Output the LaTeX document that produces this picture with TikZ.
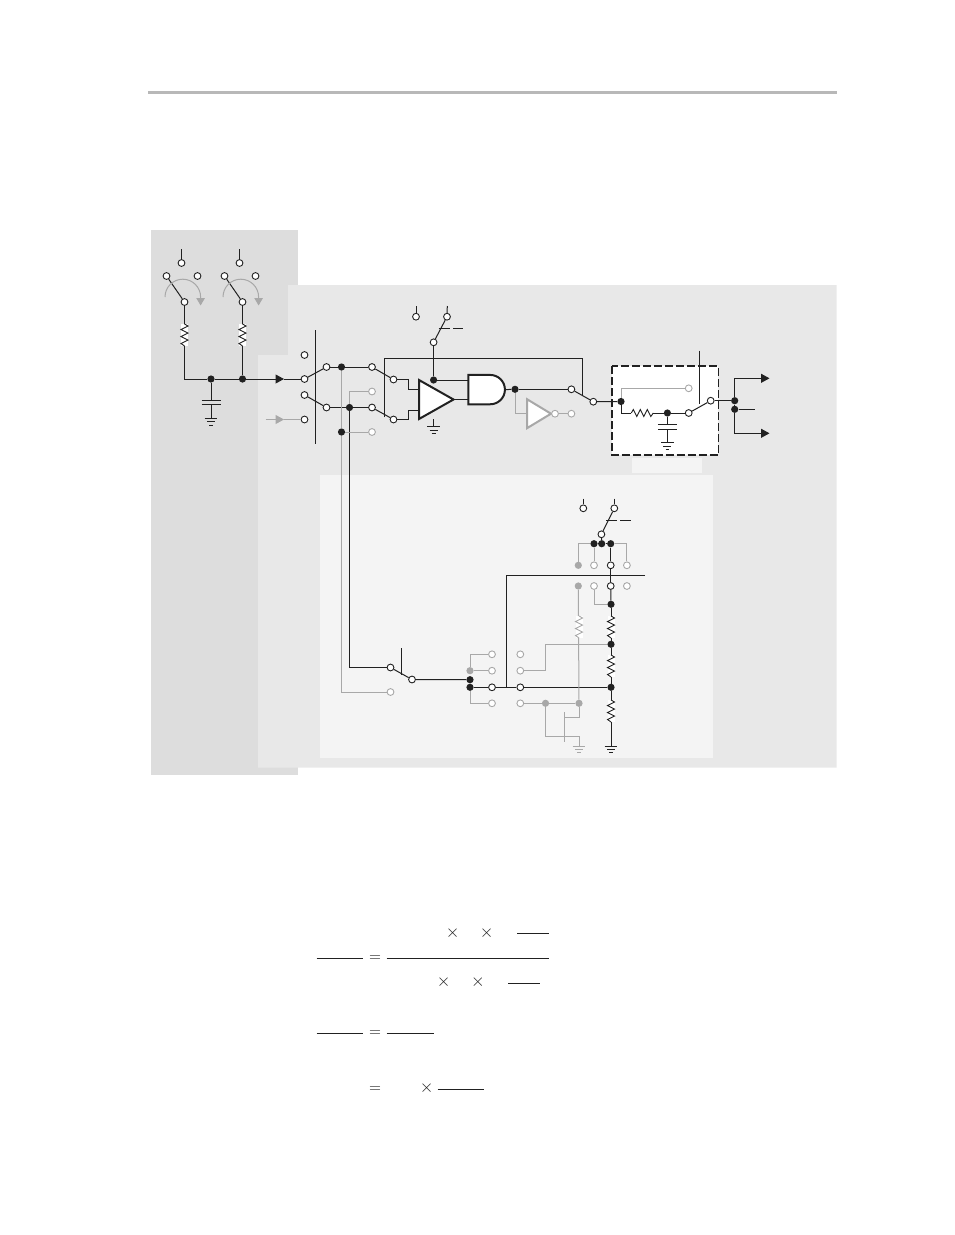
\documentclass[tikz,border=0pt]{standalone}
\usepackage{amsmath}
\usetikzlibrary{arrows.meta,calc,shapes.geometric,shapes.gates.logic.US}
\definecolor{wirec}{gray}{0.13}
\definecolor{greyc}{gray}{0.66}
\definecolor{panela}{gray}{0.865}
\definecolor{panelb}{gray}{0.91}
\definecolor{panelc}{gray}{0.955}
\tikzset{
  term/.style={circle,draw=wirec,fill=white,line width=0.9pt,inner sep=0pt,minimum size=6.8pt},
  gterm/.style={term,draw=greyc},
  jdot/.style={circle,fill=wirec,inner sep=0pt,minimum size=7.2pt},
  gdot/.style={jdot,fill=greyc},
  wire/.style={draw=wirec,line width=1pt},
  gwire/.style={draw=greyc,line width=1pt},
  ampl/.style={isosceles triangle,isosceles triangle stretches,draw=wirec,fill=white,line width=2pt,inner sep=0pt,outer sep=0pt,anchor=lower side},
  sym/.style={scale=1.75,text=wirec,inner sep=0pt},
  head/.style={-{Triangle[length=8.5pt,width=9pt]}},
  pics/res/.style={code={
    \fill[white] (-3.5,-11) rectangle (3.5,11);
    \draw[line width=0.9pt] (0,-11) -- (3.5,-9) -- (-3.5,-5.5) -- (3.5,-2) -- (-3.5,1.5) -- (3.5,5) -- (-3.5,8.5) -- (0,11);
  }},
  pics/gnd/.style={code={
    \coordinate (-top) at (0,0);
    \draw[line width=1pt] (-6.3,0) -- (6.3,0) (-4,3.4) -- (4,3.4) (-1.9,6.8) -- (1.9,6.8);
  }},
  pics/capa/.style={code={
    \coordinate (-top) at (0,-2.4);
    \coordinate (-bot) at (0,2.4);
    \draw[line width=1pt] (-9.5,-2.4) -- (9.5,-2.4) (-9.5,2.4) -- (9.5,2.4);
  }}
}
\begin{document}
\begin{tikzpicture}[x=1pt,y=-1pt]
  \useasboundingbox (0,0) rectangle (954,1235);

  \draw[line width=2.6pt,black!28] (148,92.5) -- (837,92.5);

  \fill[panela] (151,230) rectangle (298,775);
  \fill[panelb] (288,285) -- (836.5,285) -- (836.5,767.5) -- (258,767.5) -- (258,355) -- (288,355) -- cycle;
  \fill[panelc] (320,475) rectangle (713,757.5);
  \fill[panelc] (632,458) rectangle (702,473);
  \draw[wirec,fill=white,line width=1.6pt,dash pattern=on 8pt off 3pt] (611.7,366) rectangle (718.3,455);

  % switches on the left
  \node[term] (sa) at (181.5,263) {};
  \node[term] (sb) at (166.5,276) {};
  \node[term] (sc) at (197.5,276) {};
  \node[term] (sd) at (184.5,302) {};
  \node[term] (ta) at (239.5,263) {};
  \node[term] (tb) at (224.5,276) {};
  \node[term] (tc) at (255.5,276) {};
  \node[term] (td) at (242.5,302) {};
  \node[jdot] (ja) at (211,379) {};
  \node[jdot] (jb) at (242.5,379) {};
  \coordinate (cora) at (184.5,379);
  \coordinate (leada) at (181.5,249);
  \coordinate (leadb) at (239.5,249);
  \coordinate (heada) at (284,379);
  \coordinate (headb) at (284,419.5);
  \coordinate (startb) at (265.5,419.5);

  % input selector
  \node[term] (ia) at (304.5,355) {};
  \node[term] (ib) at (304.5,379) {};
  \node[term] (ic) at (304.5,395) {};
  \node[term] (id) at (304.5,419.5) {};
  \node[term] (ie) at (326.5,367) {};
  \node[term] (if) at (326.5,407.5) {};
  \node[jdot] (jc) at (341.5,367) {};
  \node[jdot] (jd) at (349.5,407.5) {};
  \node[jdot] (je) at (341.5,432) {};
  \node[term] (oa) at (372,367) {};
  \node[gterm] (ob) at (372,391.5) {};
  \node[term] (oc) at (372,407.5) {};
  \node[gterm] (od) at (372,432) {};
  \node[term] (pa) at (393.5,379.5) {};
  \node[term] (pb) at (393.5,419.5) {};
  \coordinate (bara) at (315.5,330);
  \coordinate (barb) at (315.5,444);
  \coordinate (loopa) at (384.5,358);
  \coordinate (loopb) at (384.5,417);
  \coordinate (loopc) at (582.7,358);
  \coordinate (loopd) at (582.7,394.5);

  % comparator, gate, inverter
  \node[ampl,minimum width=39pt,minimum height=34.5pt] (cmp) at (419,399.5) {};
  \node[and gate US,logic gate inputs=nn,draw=wirec,fill=white,line width=2pt,anchor=west,outer sep=0pt,minimum width=35.5pt,minimum height=29.3pt] (gate) at (468.3,389.6) {};
  \node[ampl,draw=greyc,minimum width=29pt,minimum height=24pt] (inv) at (527,413.7) {};
  \node[gterm] (bub) at (555,413.7) {};
  \node[gterm] (ue) at (571.4,413.7) {};
  \node[jdot] (jf) at (433.6,380) {};
  \node[jdot] (jg) at (515,389.3) {};
  \node[term] (ua) at (571.4,389.3) {};
  \node[term] (ub) at (593.3,401.7) {};
  \node[term] (va) at (416,316.7) {};
  \node[term] (vb) at (447,316.7) {};
  \node[term] (vc) at (433.6,342.3) {};
  \coordinate (vleada) at (416,306);
  \coordinate (vleadb) at (447.3,306);
  \coordinate (arma) at (438.5,328.3);
  \coordinate (armb) at (450,328.3);
  \coordinate (armc) at (453,328.3);
  \coordinate (armd) at (463.3,328.3);
  \coordinate (ga) at (433.6,426.7);
  \coordinate (cmpb) at (433.6,419);

  % filter in the dashed box
  \node[jdot] (jh) at (621,401.5) {};
  \node[jdot] (ji) at (667.4,413) {};
  \node[gterm] (wa) at (688.7,388.3) {};
  \node[term] (wb) at (688.7,413) {};
  \node[term] (wc) at (710.7,400.7) {};
  \node[jdot] (jj) at (734.7,400.7) {};
  \node[jdot] (jk) at (734.7,409.3) {};
  \coordinate (barc) at (699.4,350.7);
  \coordinate (bard) at (699.4,403.5);
  \coordinate (reso) at (642.3,413);
  \coordinate (oute) at (755,409.3);
  \coordinate (outa) at (769.5,378.3);
  \coordinate (outb) at (769.5,433.3);
  \coordinate (gb) at (667.4,442.7);

  % lower block
  \node[term] (xa) at (583.3,508.3) {};
  \node[term] (xb) at (614.3,508.3) {};
  \node[term] (xc) at (601.4,534.3) {};
  \node[jdot] (ka) at (594,543.7) {};
  \node[jdot] (kb) at (601.7,543.7) {};
  \node[jdot] (kc) at (610.7,543.7) {};
  \node[gdot] (ya) at (578.3,565.3) {};
  \node[gterm] (yb) at (594,565.3) {};
  \node[term] (yc) at (610.7,565.3) {};
  \node[gterm] (yd) at (626.9,565.3) {};
  \node[gdot] (za) at (578.3,586) {};
  \node[gterm] (zb) at (594,586) {};
  \node[term] (zc) at (610.7,586) {};
  \node[gterm] (zd) at (626.9,586) {};
  \node[jdot] (kd) at (611,604.3) {};
  \node[jdot] (ke) at (611,644.3) {};
  \node[jdot] (kf) at (611,687.3) {};
  \node[gdot] (kg) at (579,703.3) {};
  \node[gdot] (kh) at (545.5,703.3) {};
  \node[gdot] (ma) at (470,670.7) {};
  \node[jdot] (mb) at (470,679.7) {};
  \node[jdot] (mc) at (470,687.3) {};
  \node[gterm] (na) at (492,654.3) {};
  \node[gterm] (nb) at (492,670.7) {};
  \node[term] (nc) at (492,687.3) {};
  \node[gterm] (nd) at (492,703.3) {};
  \node[gterm] (ra) at (520.3,654.3) {};
  \node[gterm] (rb) at (520.3,670.7) {};
  \node[term] (rc) at (520.3,687.3) {};
  \node[gterm] (rd) at (520.3,703.3) {};
  \node[term] (qa) at (390.5,667.5) {};
  \node[gterm] (qb) at (390.5,692) {};
  \node[term] (qc) at (412,679.5) {};
  \coordinate (xleada) at (583.3,498.5);
  \coordinate (xleadb) at (614.3,498.5);
  \coordinate (xarma) at (606,520);
  \coordinate (xarmb) at (616.7,520);
  \coordinate (xarmc) at (620,520);
  \coordinate (xarmd) at (630.7,520);
  \coordinate (busa) at (506,575.3);
  \coordinate (busb) at (645,575.3);
  \coordinate (busc) at (506,687.3);
  \coordinate (bare) at (401.3,648.3);
  \coordinate (barf) at (401.3,675);
  \coordinate (gc) at (611,746);
  \coordinate (gd) at (579,746);
  \coordinate (gatea) at (564.3,712);
  \coordinate (gateb) at (564.3,741.7);
  \coordinate (gatec) at (564.3,717.3);
  \coordinate (gated) at (579,717.3);
  \coordinate (gatee) at (545.5,736.3);
  \coordinate (gatef) at (579,736.3);
  \coordinate (bendb) at (545.7,644.3);

  % black wires
  \draw[wire] (leada) -- (sa);
  \draw[wire] (leadb) -- (ta);
  \draw[wire] (sb) -- (sd);
  \draw[wire] (tb) -- (td);
  \draw[wire] (sd) -- (cora) -- (ja);
  \draw[wire] (td) -- (jb);
  \draw[wire] (ja) -- (jb);
  \draw[wire,head] (jb) -- (heada);
  \draw[wire] (heada) -- (ib);
  \draw[wire] (ib) -- (ie);
  \draw[wire] (ic) -- (if);
  \draw[wire] (bara) -- (barb);
  \draw[wire] (ie) -- (jc);
  \draw[wire] (jc) -- (oa);
  \draw[wire] (if) -- (jd);
  \draw[wire] (jd) -- (oc);
  \draw[wire] (oa) -- (pa);
  \draw[wire] (oc) -- (pb);
  \draw[wire] (loopb) -- (loopa) -- (loopc) -- (loopd);
  \draw[wire] (pa) -- ++(14.5,0) |- ($(cmp.lower side)+(0,-10)$);
  \draw[wire] (pb) -- ++(14.5,0) |- ($(cmp.lower side)+(0,10.5)$);
  \draw[wire] (jf) -- (vc);
  \draw[wire] (vc) -- (vb);
  \draw[wire] (vleada) -- (va);
  \draw[wire] (vleadb) -- (vb);
  \draw[wire] (arma) -- (armb);
  \draw[wire] (armc) -- (armd);
  \draw[wire] (jf) -- (jf -| gate.west);
  \draw[wire] (cmp.apex) -- (cmp.apex -| gate.west);
  \draw[wire] (gate.east) -- (jg);
  \draw[wire] (jg) -- (ua);
  \draw[wire] (ua) -- (ub);
  \draw[wire] (ub) -- (jh);
  \draw[wire] (jh) |- (reso);
  \draw[wire] (reso) -- (ji);
  \draw[wire] (ji) -- (wb);
  \draw[wire] (wb) -- (wc);
  \draw[wire] (barc) -- (bard);
  \draw[wire] (wc) -- (jj);
  \draw[wire] (jj) -- (jk);
  \draw[wire,head] (jj) |- (outa);
  \draw[wire,head] (jk) |- (outb);
  \draw[wire] (jk) -- (oute);
  \draw[wire] (jd) |- (qa);
  \draw[wire] (qa) -- (qc);
  \draw[wire] (bare) -- (barf);
  \draw[wire] (qc) -- (mb);
  \draw[wire] (mb) -- (mc);
  \draw[wire] (mc) -- (nc);
  \draw[wire] (nc) -- (rc);
  \draw[wire] (rc) -- (kf);
  \draw[wire] (busb) -- (busa) -- (busc);
  \draw[wire] (xleada) -- (xa);
  \draw[wire] (xleadb) -- (xb);
  \draw[wire] (xc) -- (xb);
  \draw[wire] (xarma) -- (xarmb);
  \draw[wire] (xarmc) -- (xarmd);
  \draw[wire] (xc) -- (kb);
  \draw[wire] (ka) -- (kb);
  \draw[wire] (kb) -- (kc);
  \draw[wire] (kc) -- (yc);
  \draw[wire] (yc) -- (zc);
  \draw[wire] (zc) -- (kd);
  \draw[wire] (kd) -- (ke);
  \draw[wire] (ke) -- (kf);
  \draw[wire] (kf) -- (gc);

  % grey wires
  \draw[gwire,-{Triangle[length=8.5pt,width=9pt]}] (startb) -- (headb);
  \draw[gwire] (headb) -- (id);
  \draw[gwire] (jc) -- (je);
  \draw[gwire] (je) |- (qb);
  \draw[gwire] (jd) |- (ob);
  \draw[gwire] (je) -- (od);
  \draw[gwire] (jg) |- (inv.lower side);
  \draw[gwire] (bub) -- (ue);
  \draw[gwire] (jh) |- (wa);
  \draw[gwire] (ka) -- (yb);
  \draw[gwire] (ka) -| (ya);
  \draw[gwire] (kc) -| (yd);
  \draw[gwire] (zb) |- (kd);
  \draw[gwire] (za) -- (kg);
  \draw[gwire] (ke) -- (bendb) |- (rb);
  \draw[gwire] (ma) -- (nb);
  \draw[gwire] (ma) |- (na);
  \draw[gwire] (mc) |- (nd);
  \draw[gwire] (rd) -- (kh);
  \draw[gwire] (kh) -- (kg);
  \draw[gwire] (kg) -- (gated) -- (gatec);
  \draw[gwire] (gatea) -- (gateb);
  \draw[gwire] (kh) -- (gatee) -- (gatef) -- (gd);

  % turning arrows of the two switches
  \draw[gwire,-{Triangle[length=7.5pt,width=8.5pt]}] (165,297) arc[start angle=180,end angle=360,radius=17.8] -- ++(0,8.5);
  \draw[gwire,-{Triangle[length=7.5pt,width=8.5pt]}] (223,297) arc[start angle=180,end angle=360,radius=17.8] -- ++(0,8.5);

  % resistors, capacitors, grounds
  \pic[color=wirec] at (184.5,335) {res};
  \pic[color=wirec] at (242.5,335) {res};
  \pic[color=wirec,rotate=90] at (reso) {res};
  \pic[color=wirec] at (611,627) {res};
  \pic[color=wirec] at (611,666) {res};
  \pic[color=wirec] at (611,711) {res};
  \pic[color=greyc] at (579,627) {res};

  \pic[color=wirec] (capa) at (211,402.5) {capa};
  \pic[color=wirec] (capb) at (667.4,427) {capa};
  \draw[wire] (ja) -- (capa-top);
  \draw[wire] (ji) -- (capb-top);
  \pic[color=wirec] (gnda) at (211,418.3) {gnd};
  \pic[color=wirec] (gndb) at (ga) {gnd};
  \pic[color=wirec] (gndc) at (gb) {gnd};
  \pic[color=wirec] (gndd) at (gc) {gnd};
  \pic[color=greyc] (gnde) at (gd) {gnd};
  \draw[wire] (capa-bot) -- (gnda-top);
  \draw[wire] (capb-bot) -- (gndc-top);
  \draw[wire] (cmpb) -- (gndb-top);

  % equations
  \node[sym,scale=0.88] (eqa) at (375,958.8) {$=$};
  \node[sym,scale=0.88] (eqb) at (375,1033.3) {$=$};
  \node[sym,scale=0.88] (eqc) at (375,1089.3) {$=$};
  \node[sym] (tma) at (452.7,933.5) {$\times$};
  \node[sym] (tmb) at (486.7,933.5) {$\times$};
  \node[sym] (tmc) at (443.7,982.5) {$\times$};
  \node[sym] (tmd) at (478,982.5) {$\times$};
  \node[sym] (tme) at (426.7,1088.5) {$\times$};
  \draw[wire] (316.7,958.3) -- (363.3,958.3);
  \draw[wire] (386.7,958.3) -- (549,958.3);
  \draw[wire] (517.3,933.3) -- (549,933.3);
  \draw[wire] (508.3,983) -- (540,983);
  \draw[wire] (316.7,1033.3) -- (363.3,1033.3);
  \draw[wire] (386.7,1033.3) -- (434,1033.3);
  \draw[wire] (437.7,1089.3) -- (484.3,1089.3);
\end{tikzpicture}
\end{document}
